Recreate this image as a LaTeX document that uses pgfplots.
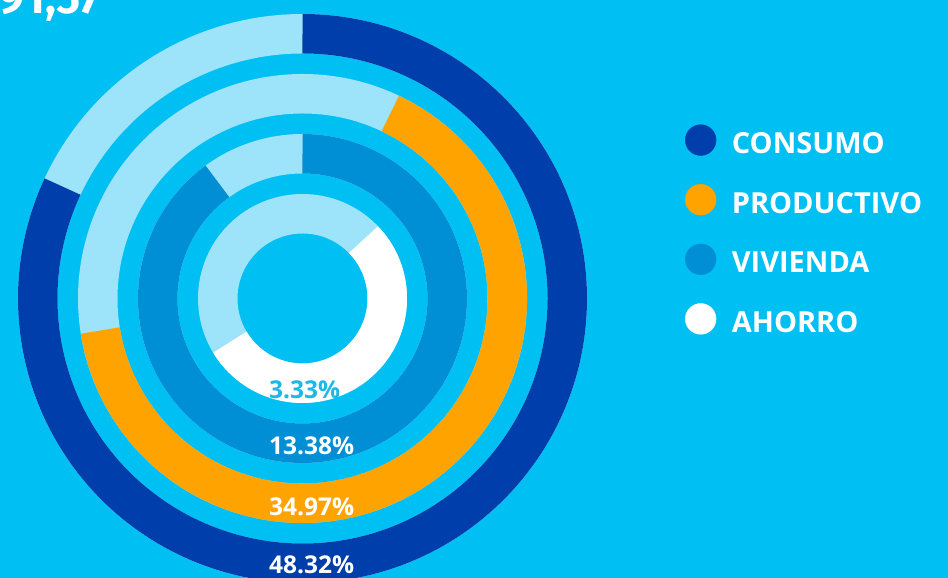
\documentclass[border=0pt]{standalone}
\usepackage{fontspec}
\setmainfont{Open Sans}
\newfontfamily\firafont{Fira Sans}
\usepackage{pgfplots}
\usepackage{pgfplotstable}
\pgfplotsset{compat=1.18}

\definecolor{bg}{HTML}{00BFF3}
\definecolor{track}{HTML}{9DE3F9}
\definecolor{cConsumo}{HTML}{003EAB}
\definecolor{cProductivo}{HTML}{FFA300}
\definecolor{cVivienda}{HTML}{008FD5}
\definecolor{cAhorro}{HTML}{FFFFFF}
\definecolor{cLabel}{HTML}{1CB8EC}

\newcommand\lgfont{\fontsize{29bp}{31bp}\selectfont\bfseries}
\newcommand\pctfont{\fontsize{24.5bp}{26bp}\selectfont\bfseries}
\newcommand\bigfont{\firafont\fontsize{45bp}{47bp}\selectfont\bfseries}

% one arc of a ring: radius (bp), start/stop angle (deg, ccw from +x)
\pgfdeclareplotmark{ringarc}{%
  \pgfpathmoveto{\pgfpointpolar{\arcstart}{\arcrad bp}}%
  \pgfpatharc{\arcstart}{\arcstop}{\arcrad bp}%
  \pgfusepathqstroke}

% r = ring radius, start/stop = arc, ly = label position, pct = share
\pgfplotstableread{
r start stop ly pct
264.75 90 -205 -266.5 48.32
}\consumo
\pgfplotstableread{
r start stop ly pct
204.75 64.6 -171 -208.2 34.97
}\productivo
\pgfplotstableread{
r start stop ly pct
144.75 90 -234 -147.5 13.38
}\vivienda
\pgfplotstableread{
r start stop ly pct
84.75 44 -149 -90.8 3.33
}\ahorro
\pgfplotstableread{
r start stop
264.75 90 -280
204.75 90 -280
144.75 90 -280
84.75 90 -280
}\tracks

\pgfplotsset{
  ring/.style={scatter, only marks, mark=ringarc,
    point meta=\thisrow{r}, point meta min=0, point meta max=300,
    visualization depends on={\thisrow{r}\as\arcrad},
    visualization depends on={\thisrow{start}\as\arcstart},
    visualization depends on={\thisrow{stop}\as\arcstop},
    scatter/@pre marker code/.code={\scope[draw=#1, line width=39.5bp]},
    scatter/@post marker code/.code={\endscope},
    legend image code/.code={\fill[#1] (15.4bp,4bp) circle (15.4bp);},
  },
  pct/.style={forget plot, only marks, mark=none,
    point meta=explicit symbolic,
    nodes near coords={\pgfplotspointmeta\%},
    every node near coord/.append style={anchor=west, font=\pctfont,
      text=#1, inner sep=0pt},
  },
}

\begin{document}
\begin{tikzpicture}
\begin{axis}[
  x=1bp, y=1bp,
  xmin=-302.5, xmax=645.5, ymin=-279.5, ymax=298.5,
  axis line style={draw=none},
  xtick=\empty, ytick=\empty,
  axis background/.style={fill=bg},
  clip=false,
  legend cell align=left,
  legend style={at={(axis cs:382.4,174.2)}, anchor=north west,
    draw=none, fill=none, inner sep=0pt, font=\lgfont, text=white,
    row sep=28.4bp, nodes={inner sep=0pt},
    /tikz/every odd column/.append style={column sep=15.5bp}},
]
\coordinate (bl) at (rel axis cs:0,0);
\coordinate (tr) at (rel axis cs:1,1);

\addplot[ring=track, forget plot] table[x expr=0, y expr=0] {\tracks};

\addplot[ring=cConsumo] table[x expr=0, y expr=0] {\consumo};
\addlegendentry{CONSUMO}
\addplot[ring=cProductivo] table[x expr=0, y expr=0] {\productivo};
\addlegendentry{PRODUCTIVO}
\addplot[ring=cVivienda] table[x expr=0, y expr=0] {\vivienda};
\addlegendentry{VIVIENDA}
\addplot[ring=cAhorro] table[x expr=0, y expr=0] {\ahorro};
\addlegendentry{AHORRO}

\addplot[pct=white] table[x expr=-33.5, y=ly, meta=pct] {\consumo};
\addplot[pct=white] table[x expr=-33.5, y=ly, meta=pct] {\productivo};
\addplot[pct=white] table[x expr=-33.5, y=ly, meta=pct] {\vivienda};
\addplot[pct=cLabel] table[x expr=-33.5, y=ly, meta=pct] {\ahorro};

\node[anchor=base east, text=white, font=\bigfont, inner sep=0pt]
  at (axis cs:-202,285) {91,57};
\end{axis}
\pgfresetboundingbox
\path[use as bounding box] (bl) rectangle (tr);
\end{tikzpicture}
\end{document}
